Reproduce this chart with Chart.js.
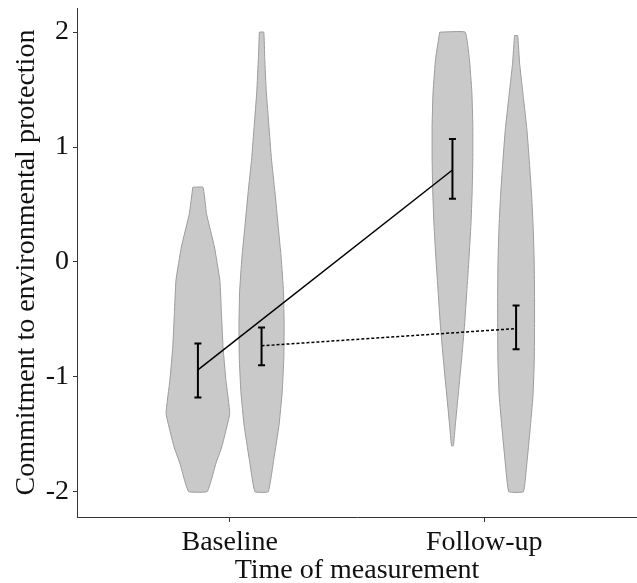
<!DOCTYPE html>
<html lang="en">
<head>
<meta charset="UTF-8" />
<title>Commitment to environmental protection</title>
<script src="https://cdn.jsdelivr.net/npm/chart.js"></script>
<style>
  html, body { margin: 0; padding: 0; background: #fff; }
  #wrap { width: 637px; height: 583px; }
</style>
</head>
<body>
<div id="wrap"><canvas id="chart"></canvas></div>
<script>
  // x categories and y ticks
  const categories = ['Baseline', 'Follow-up'];
  const yTicks = [-2, -1, 0, 1, 2];

  // violin outlines: y values and relative density (1 = widest)
  const baseAY = [0.65, 0.42, 0.13, -0.16, -0.45, -0.74, -1.03, -1.32, -1.61, -1.75, -1.90, -2.0];
  const baseADens = [0.16, 0.27, 0.52, 0.69, 0.74, 0.79, 0.88, 1.0, 0.75, 0.57, 0.42, 0.29];
  const baseBY = [2.0, 1.77, 1.48, 1.19, 0.90, 0.61, 0.32, 0.03, -0.26, -0.55, -0.84, -1.13, -1.42, -1.71, -2.0];
  const baseBDens = [0.07, 0.10, 0.15, 0.23, 0.31, 0.42, 0.52, 0.62, 0.69, 0.71, 0.70, 0.65, 0.55, 0.39, 0.21];
  const followAY = [2.0, 1.77, 1.48, 1.19, 0.90, 0.61, 0.32, 0.03, -0.26, -0.55, -0.84, -1.13, -1.42, -1.6];
  const followADens = [0.40, 0.53, 0.61, 0.64, 0.64, 0.62, 0.58, 0.52, 0.45, 0.38, 0.29, 0.19, 0.09, 0.03];
  const followBY = [1.97, 1.73, 1.43, 1.15, 0.86, 0.57, 0.28, -0.01, -0.30, -0.59, -0.88, -1.17, -1.46, -1.75, -2.0];
  const followBDens = [0.05, 0.11, 0.23, 0.34, 0.42, 0.49, 0.54, 0.57, 0.58, 0.58, 0.57, 0.53, 0.44, 0.34, 0.23];

  // means with error bar limits (group A = solid line, group B = dotted line)
  const meansA = [-0.94, 0.80];
  const lowA = [-1.18, 0.55];
  const highA = [-0.71, 1.07];
  const meansB = [-0.73, -0.58];
  const lowB = [-0.90, -0.76];
  const highB = [-0.57, -0.38];

  const dodge = 0.125;
  const halfMax = 0.125;
  const serif = "'Liberation Serif', 'DejaVu Serif', serif";

  function violin(cx, ys, dens) {
    const left = ys.map((y, i) => ({ x: cx - dens[i] * halfMax, y: y }));
    const right = ys.map((y, i) => ({ x: cx + dens[i] * halfMax, y: y })).reverse();
    return left.concat(right, [left[0]]);
  }

  function violinSet(data) {
    return {
      data: data, showLine: true, fill: 'shape', tension: 0.1,
      backgroundColor: '#c9c9c9', borderColor: '#9c9c9c', borderWidth: 1,
      pointRadius: 0, order: 3
    };
  }

  // error bars drawn on top through the chart scales
  const errorBars = {
    id: 'errorBars',
    afterDatasetsDraw(chart) {
      const { ctx, scales: { x, y } } = chart;
      const bars = [];
      [0, 1].forEach(i => {
        bars.push([i + 1 - dodge, lowA[i], highA[i]]);
        bars.push([i + 1 + dodge, lowB[i], highB[i]]);
      });
      ctx.save();
      ctx.strokeStyle = '#000';
      ctx.lineWidth = 2;
      bars.forEach(([cx, lo, hi]) => {
        const px = x.getPixelForValue(cx);
        const p1 = y.getPixelForValue(lo);
        const p2 = y.getPixelForValue(hi);
        ctx.beginPath();
        ctx.moveTo(px, p1); ctx.lineTo(px, p2);
        ctx.moveTo(px - 3.5, p1); ctx.lineTo(px + 3.5, p1);
        ctx.moveTo(px - 3.5, p2); ctx.lineTo(px + 3.5, p2);
        ctx.stroke();
      });
      ctx.restore();
    }
  };

  const ctx = document.getElementById('chart').getContext('2d');
  new Chart(ctx, {
    type: 'scatter',
    data: {
      datasets: [
        violinSet(violin(1 - dodge, baseAY, baseADens)),
        violinSet(violin(1 + dodge, baseBY, baseBDens)),
        violinSet(violin(2 - dodge, followAY, followADens)),
        violinSet(violin(2 + dodge, followBY, followBDens)),
        {
          data: meansA.map((m, i) => ({ x: i + 1 - dodge, y: m })),
          showLine: true, borderColor: '#000', borderWidth: 1.5,
          pointRadius: 0, order: 1
        },
        {
          data: meansB.map((m, i) => ({ x: i + 1 + dodge, y: m })),
          showLine: true, borderColor: '#000', borderWidth: 1.5, borderDash: [3, 2],
          pointRadius: 0, order: 1
        }
      ]
    },
    options: {
      responsive: true,
      maintainAspectRatio: false,
      animation: false,
      layout: { padding: { top: 8, right: 0, left: 0, bottom: 0 } },
      plugins: { legend: { display: false }, tooltip: { enabled: false } },
      scales: {
        x: {
          type: 'linear', min: 0.4, max: 2.6,
          afterBuildTicks: s => { s.ticks = [{ value: 1 }, { value: 2 }]; },
          afterFit: s => { s.height = 66; },
          ticks: {
            callback: v => categories[v - 1],
            font: { family: serif, size: 28 }, color: '#111', padding: 4, maxRotation: 0
          },
          grid: { drawOnChartArea: false, tickLength: 5, color: '#333' },
          border: { color: '#333', width: 1 },
          title: {
            display: true, text: 'Time of measurement',
            font: { family: serif, size: 28 }, color: '#111', padding: { top: 0, bottom: -4 }
          }
        },
        y: {
          min: -2.22, max: 2.21,
          afterBuildTicks: s => { s.ticks = yTicks.map(v => ({ value: v })); },
          afterFit: s => { s.width = 77; s.paddingTop = 0; s.paddingBottom = 0; },
          ticks: {
            callback: v => String(v),
            font: { family: serif, size: 28 }, color: '#111', padding: 4
          },
          grid: { drawOnChartArea: false, tickLength: 4, color: '#333' },
          border: { color: '#333', width: 1 },
          title: {
            display: true, text: 'Commitment to environmental protection',
            font: { family: serif, size: 28 }, color: '#111', padding: { top: 10, bottom: 0 }
          }
        }
      }
    },
    plugins: [errorBars]
  });
</script>
</body>
</html>
